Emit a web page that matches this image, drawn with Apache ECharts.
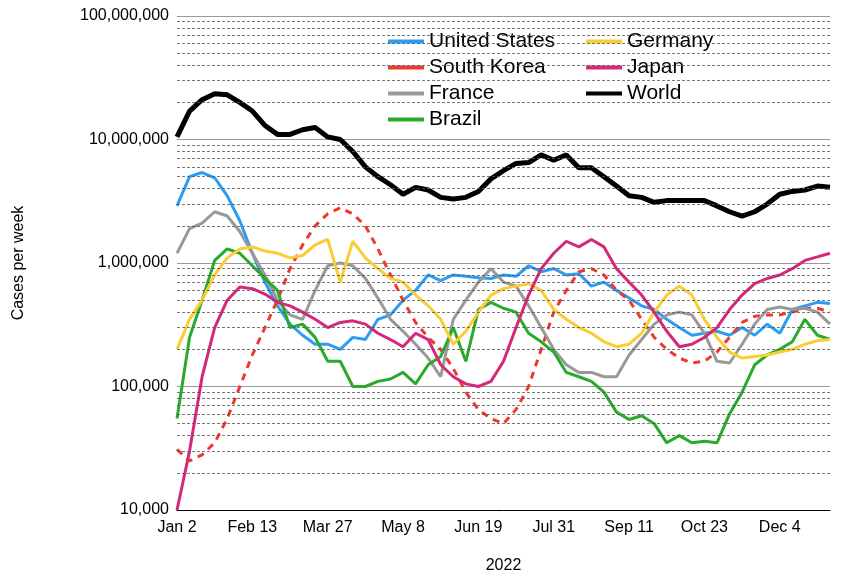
<!DOCTYPE html>
<html>
<head>
<meta charset="utf-8">
<script src="https://cdn.jsdelivr.net/npm/echarts@6/dist/echarts.min.js"></script>
<style>html,body{margin:0;padding:0;background:#fff}#chart{width:841px;height:581px}</style>
</head>
<body>
<div id="chart"></div>
<script>
var tickLabels = ['Jan 2', 'Feb 13', 'Mar 27', 'May 8', 'Jun 19', 'Jul 31', 'Sep 11', 'Oct 23', 'Dec 4'];

var unitedStates = [2.9e6,5e6,5.4e6,4.9e6,3.5e6,2.2e6,1.2e6,7e5,4.5e5,3.2e5,2.6e5,2.2e5,2.2e5,2e5,2.5e5,2.4e5,3.5e5,3.8e5,5e5,6e5,8e5,7.2e5,8e5,7.8e5,7.6e5,7.5e5,8e5,7.8e5,9.5e5,8.5e5,9e5,8e5,8.2e5,6.5e5,7e5,6e5,5.2e5,4.5e5,4.2e5,3.5e5,3e5,2.6e5,2.7e5,2.8e5,2.6e5,3e5,2.6e5,3.2e5,2.7e5,4.2e5,4.5e5,4.8e5,4.7e5];
var southKorea = [3.1e4,2.5e4,2.8e4,3.5e4,5.5e4,1e5,1.8e5,3e5,5e5,9e5,1.4e6,2e6,2.5e6,2.8e6,2.5e6,2e6,1.3e6,8e5,5e5,3.3e5,2.5e5,2e5,1.4e5,9e4,6.5e4,5.5e4,5e4,6.5e4,1e5,2e5,4e5,6e5,8.5e5,9e5,8e5,6e5,5e5,3.5e5,2.5e5,2e5,1.7e5,1.55e5,1.6e5,1.9e5,2.5e5,3.3e5,3.7e5,3.8e5,3.8e5,4e5,4.3e5,4.3e5,4e5];
var france = [1.2e6,1.9e6,2.1e6,2.6e6,2.4e6,1.8e6,1.2e6,8e5,5e5,3.8e5,3.5e5,6e5,9.5e5,1e6,9.5e5,7.5e5,5.2e5,3.5e5,2.8e5,2.2e5,1.7e5,1.2e5,3.5e5,5e5,7e5,9e5,7e5,6.5e5,4.5e5,3e5,2e5,1.5e5,1.3e5,1.3e5,1.2e5,1.2e5,1.8e5,2.4e5,3.2e5,3.8e5,4e5,3.8e5,2.7e5,1.6e5,1.55e5,2.2e5,3.2e5,4.2e5,4.4e5,4.2e5,4.3e5,4e5,3.2e5];
var brazil = [5.5e4,2.5e5,5e5,1.05e6,1.3e6,1.2e6,9.5e5,7.5e5,6e5,3e5,3.2e5,2.5e5,1.6e5,1.6e5,1e5,1e5,1.1e5,1.15e5,1.3e5,1.05e5,1.5e5,1.75e5,3e5,1.6e5,4.2e5,4.8e5,4.3e5,4e5,2.7e5,2.3e5,1.9e5,1.3e5,1.2e5,1.1e5,9e4,6.2e4,5.4e4,5.8e4,5e4,3.5e4,4e4,3.5e4,3.6e4,3.5e4,6e4,9e4,1.5e5,1.8e5,2e5,2.3e5,3.5e5,2.6e5,2.4e5];
var germany = [2e5,3.5e5,5e5,8e5,1.1e6,1.3e6,1.35e6,1.25e6,1.2e6,1.1e6,1.15e6,1.4e6,1.55e6,7e5,1.5e6,1.1e6,9e5,7.5e5,7e5,5.5e5,4.5e5,3.5e5,2.2e5,2.8e5,4e5,5.5e5,6.2e5,6.5e5,6.8e5,6e5,4.2e5,3.5e5,3e5,2.7e5,2.3e5,2.1e5,2.2e5,2.7e5,4e5,5.5e5,6.5e5,5.5e5,3.5e5,2.5e5,1.9e5,1.7e5,1.75e5,1.8e5,1.9e5,2e5,2.2e5,2.35e5,2.4e5];
var japan = [1e4,3e4,1.2e5,3e5,5e5,6.4e5,6.2e5,5.6e5,4.8e5,4.5e5,4e5,3.5e5,3e5,3.3e5,3.4e5,3.2e5,2.7e5,2.4e5,2.1e5,2.7e5,2.4e5,1.5e5,1.2e5,1.05e5,1e5,1.1e5,1.6e5,3e5,5.5e5,9e5,1.2e6,1.5e6,1.35e6,1.55e6,1.35e6,9e5,7e5,5.5e5,4e5,2.8e5,2.1e5,2.2e5,2.5e5,3e5,4.2e5,5.5e5,6.8e5,7.5e5,8e5,9e5,1.05e6,1.12e6,1.2e6];
var world = [1.05e7,1.7e7,2.1e7,2.35e7,2.3e7,2e7,1.7e7,1.3e7,1.1e7,1.1e7,1.2e7,1.25e7,1.05e7,1e7,8e6,6e6,5e6,4.3e6,3.6e6,4.1e6,3.9e6,3.4e6,3.3e6,3.4e6,3.8e6,4.8e6,5.6e6,6.4e6,6.5e6,7.5e6,6.8e6,7.5e6,5.9e6,5.9e6,5e6,4.2e6,3.5e6,3.4e6,3.1e6,3.2e6,3.2e6,3.2e6,3.2e6,2.9e6,2.6e6,2.4e6,2.6e6,3e6,3.6e6,3.8e6,3.9e6,4.2e6,4.1e6];

var nWeeks = 53;
var weeks = [];
for (var i = 0; i < nWeeks; i++) {
  weeks.push(i % 6 === 0 ? tickLabels[i / 6] || '' : '');
}

// dashed minor grid lines at 2..9 x each decade
var minorLines = [];
for (var d = 1e4; d < 1e8; d *= 10) {
  for (var k = 2; k <= 9; k++) minorLines.push({ yAxis: d * k });
}

function fmt(v) { return v.toLocaleString('en-US'); }

function line(name, data, color, extra) {
  var s = {
    name: name, type: 'line', data: data, symbol: 'none', smooth: false,
    lineStyle: { color: color, width: 3 }, itemStyle: { color: color }
  };
  return Object.assign(s, extra || {});
}

var legendText = { fontSize: 21, fontFamily: 'Liberation Sans, Arial', color: '#000' };

var chart = echarts.init(document.getElementById('chart'));
chart.setOption({
  animation: false,
  grid: { left: 177, right: 11, top: 16, bottom: 71 },
  legend: [
    { data: ['United States', 'South Korea', 'France', 'Brazil'], orient: 'vertical', left: 383, top: 26, itemGap: 5, itemWidth: 36, itemHeight: 4,
      textStyle: legendText, icon: 'rect' },
    { data: ['Germany', 'Japan', 'World'], orient: 'vertical', left: 581, top: 26, itemGap: 5, itemWidth: 36, itemHeight: 4,
      textStyle: legendText, icon: 'rect' }
  ],
  xAxis: {
    type: 'category', data: weeks, boundaryGap: false,
    name: '2022', nameLocation: 'middle', nameGap: 48,
    nameTextStyle: { fontSize: 16, fontFamily: 'Liberation Sans, Arial', color: '#000' },
    axisLine: { lineStyle: { color: '#000', width: 1 } },
    axisTick: { show: false },
    axisLabel: { interval: 0, fontSize: 16, fontFamily: 'Liberation Sans, Arial', color: '#000', margin: 10 },
    splitLine: { show: false }
  },
  yAxis: {
    type: 'log', logBase: 10, min: 1e4, max: 1e8,
    name: 'Cases per week', nameLocation: 'middle', nameGap: 150, nameRotate: 90,
    nameTextStyle: { fontSize: 16, fontFamily: 'Liberation Sans, Arial', color: '#000' },
    axisLine: { show: false }, axisTick: { show: false },
    axisLabel: { fontSize: 16, fontFamily: 'Liberation Sans, Arial', color: '#000', formatter: fmt },
    splitLine: { lineStyle: { color: '#999', width: 1 } }
  },
  series: [
    line('United States', unitedStates, '#2a9df4', {
      markLine: { silent: true, symbol: 'none', label: { show: false },
        lineStyle: { color: '#555', type: [3, 2], width: 0.8 }, data: minorLines }
    }),
    line('South Korea', southKorea, '#ee3a2e', { lineStyle: { color: '#ee3a2e', width: 3, type: [7, 6] } }),
    line('France', france, '#999999'),
    line('Brazil', brazil, '#2aaa2a'),
    line('Germany', germany, '#fbcc33'),
    line('Japan', japan, '#d6287a'),
    line('World', world, '#000000', { lineStyle: { color: '#000', width: 5 } })
  ]
});
</script>
</body>
</html>
